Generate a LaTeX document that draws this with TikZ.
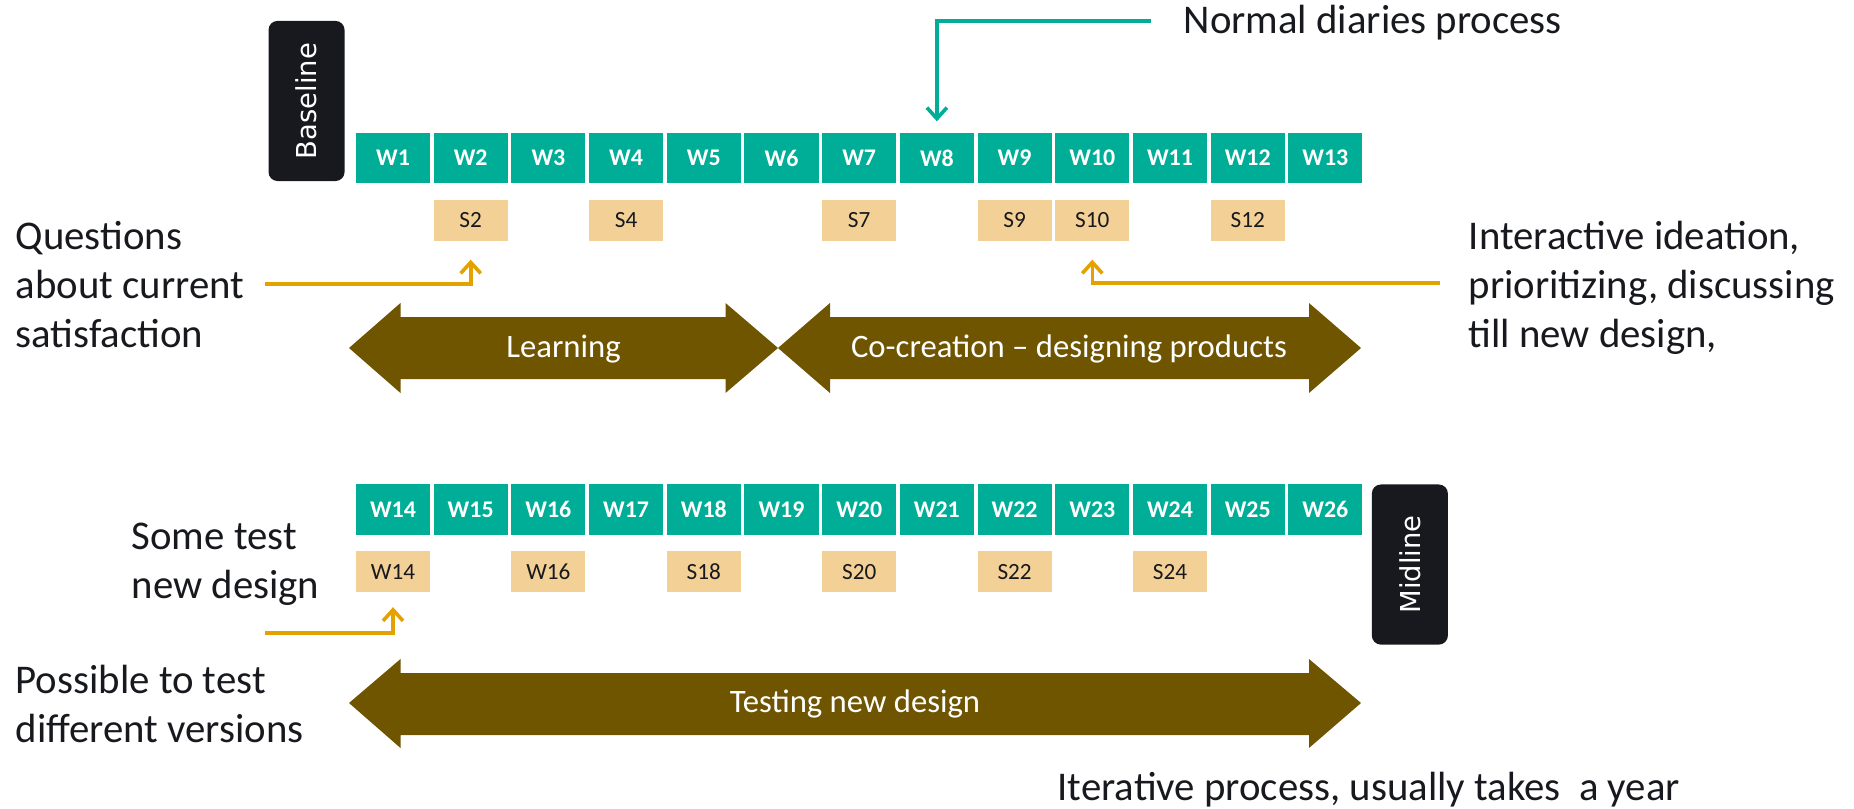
\documentclass[tikz,border=0pt]{standalone}
\usepackage{fontspec}
\setmainfont{Carlito}
\newfontfamily\tagfont{DejaVu Sans}
\usetikzlibrary{positioning,arrows.meta}

\definecolor{weekteal}{RGB}{0,173,150}
\definecolor{sessand}{RGB}{243,209,150}
\definecolor{goldline}{RGB}{228,162,0}
\definecolor{bandbrown}{RGB}{111,85,0}
\definecolor{tagblack}{RGB}{24,25,30}
\definecolor{inkblack}{RGB}{24,25,30}

\begin{document}
\begin{tikzpicture}[
  x=0.01cm, y=-0.01cm,
  node distance=0.155cm and 0cm,
  week/.style={fill=weekteal,text=white,font=\fontsize{6.8}{8}\selectfont\bfseries,
    minimum width=0.74cm,minimum height=0.5cm,inner sep=0},
  sess/.style={fill=sessand,text=inkblack,font=\fontsize{6.6}{8}\selectfont,
    minimum width=0.74cm,minimum height=0.41cm,inner sep=0},
  tag/.style={fill=tagblack,text=white,rounded corners=0.09cm,font=\tagfont\fontsize{7.8}{9}\selectfont,
    minimum width=0.76cm,minimum height=1.6cm,inner sep=0},
  note/.style={font=\fontsize{11.6}{13.9}\selectfont,text=inkblack,align=left,inner sep=0,anchor=base west},
  band/.style={fill=bandbrown},
  bandtext/.style={text=white,font=\fontsize{9.3}{11}\selectfont,anchor=base},
  pointer/.style={draw=goldline,line width=0.036cm,-{Straight Barb[length=0.11cm,width=0.2cm]}},
  diary/.style={draw=weekteal,line width=0.036cm,-{Straight Barb[length=0.11cm,width=0.2cm]}}
]
\useasboundingbox (0,0) rectangle (1854,809);

% weeks
\foreach \i in {1,...,13}
  \node[week] (w\i) at ({393+77.7*(\i-1)},158) {W\i};
\foreach \i in {14,...,26}
  \node[week] (w\i) at ({393+77.7*(\i-14)},509.5) {W\i};

% sessions
\foreach \i in {2,4,7,9,10,12}
  \node[sess,below=of w\i] (s\i) {S\i};
\foreach \i/\lab in {14/W14,16/W16,18/S18,20/S20,22/S22,24/S24}
  \node[sess,below=of w\i] (s\i) {\lab};

% baseline / midline
\node[tag,anchor=south east] (base) at ([xshift=-0.1cm,yshift=0.02cm]w1.south west) {\rotatebox{90}{Baseline}};
\node[tag,anchor=north west] (mid) at ([xshift=0.08cm]w26.north east) {\rotatebox{90}{Midline}};

% phases
\fill[band] (349,348) -- (400.5,303) -- (400.5,317) -- (725.5,317) -- (725.5,303) -- (778,348)
  -- (725.5,393) -- (725.5,379) -- (400.5,379) -- (400.5,393) -- cycle;
\fill[band] (778,348) -- (830,303) -- (830,317) -- (1309,317) -- (1309,303) -- (1361,348)
  -- (1309,393) -- (1309,379) -- (830,379) -- (830,393) -- cycle;
\fill[band] (349,703) -- (400.5,659) -- (400.5,673) -- (1309,673) -- (1309,659) -- (1361,703)
  -- (1309,748) -- (1309,735) -- (400.5,735) -- (400.5,748) -- cycle;
\node[bandtext] (learn) at (563.5,357) {Learning};
\node[bandtext] (cocreate) at (1069,357) {Co-creation – designing products};
\node[bandtext] (testing) at (855,712) {Testing new design};

% notes (base = last line)
\node[note] (quest) at (15,347) {Questions\\about current\\satisfaction};
\node[note] (ideate) at (1468,347) {Interactive ideation,\\prioritizing, discussing\\till new design,};
\node[note] (sometest) at (131,598) {Some test\\new design};
\node[note] (possible) at (15,742) {Possible to test\\different versions};
\node[note] (normal) at (1183,33) {Normal diaries process};
\node[note] (iter) at (1057,800) {Iterative process, usually takes~ a year};

% pointers
\coordinate (normalend) at (1151,21);
\coordinate (questend) at (265,284);
\coordinate (ideateend) at (1440,283);
\coordinate (testend) at (265,633);
\draw[diary] (normalend) -| ([yshift=0.11cm]w8.north);
\draw[pointer] (questend) -| ([yshift=-0.18cm]s2.south);
\draw[pointer] (ideateend) -| ([yshift=-0.18cm]s10.south);
\draw[pointer] (testend) -| ([yshift=-0.14cm]s14.south);
\end{tikzpicture}
\end{document}
